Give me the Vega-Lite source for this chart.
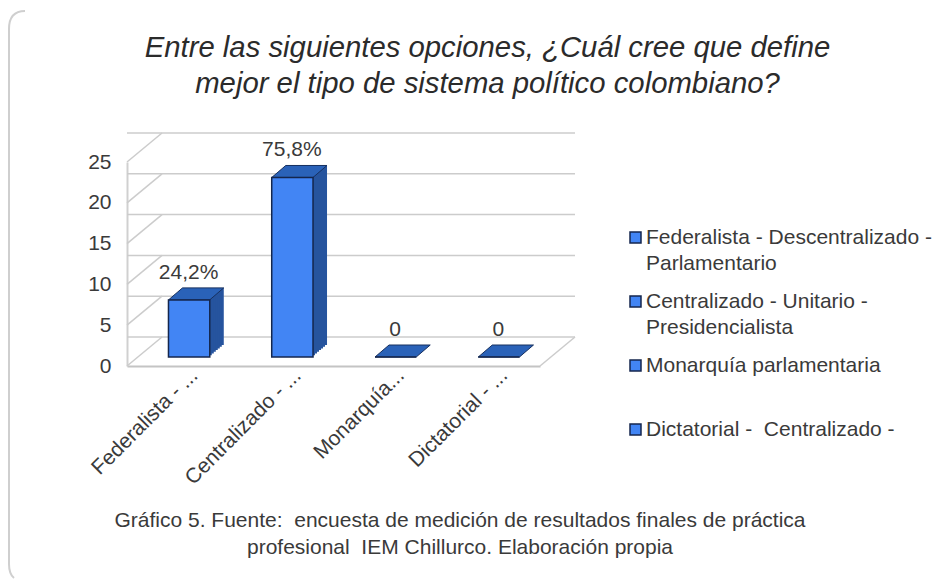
{
"$schema":"https://vega.github.io/schema/vega-lite/v6.json",
"width":413,"height":204,
"autosize":{"type":"none"},
"padding":{"left":127,"top":162,"right":399,"bottom":213},
"background":"white",
"title":{"text":["Entre las siguientes opciones, ¿Cuál cree que define","mejor el tipo de sistema político colombiano?"],"font":"Liberation Sans","fontStyle":"italic","fontWeight":"normal","fontSize":29.3,"color":"#2b2b2b","lineHeight":36,"anchor":"middle","dx":154,"offset":-121,"baseline":"bottom"},
"config":{"view":{"stroke":null},"axisY":{"values":[0,5,10,15,20,25],"labelFont":"Liberation Sans","labelFontSize":21,"labelColor":"#3a3a3a","labelPadding":16,"ticks":false,"domainColor":"#d0d0d0","domainWidth":2,"grid":false}},
"datasets":{
"bars":[
{"categoria":"Federalista - ...","serie":"Federalista - Descentralizado - Parlamentario","valor":7,"etiqueta":"24,2%"},
{"categoria":"Centralizado - ...","serie":"Centralizado - Unitario - Presidencialista","valor":22,"etiqueta":"75,8%"},
{"categoria":"Monarquía...","serie":"Monarquía parlamentaria","valor":0,"etiqueta":"0"},
{"categoria":"Dictatorial - ...","serie":"Dictatorial - \u00a0Centralizado -","valor":0,"etiqueta":"0"}],
"grid":[{"tick":0},{"tick":5},{"tick":10},{"tick":15},{"tick":20},{"tick":25}],
"frame":[{"parte":"marco"}]
},
"layer":[
{"data":{"name":"frame"},"mark":{"type":"point","shape":"M-102,-151Q-118,-151 -118,-133L-118,402Q-118,412 -113,416","size":4,"filled":false,"stroke":"#cfcfcf","strokeWidth":2,"opacity":1},"encoding":{"x":{"value":0},"y":{"value":0}}},
{"data":{"name":"grid"},"mark":{"type":"rule","color":"#cccccc","strokeWidth":1.5,"xOffset":35,"x2Offset":35,"yOffset":-29},"encoding":{"y":{"field":"tick","type":"quantitative","scale":{"domain":[0,25],"nice":false},"axis":{"title":null}}}},
{"data":{"name":"grid"},"mark":{"type":"rule","color":"#cccccc","strokeWidth":1.5,"y2Offset":-29},"encoding":{"x":{"value":0},"x2":{"value":35},"y":{"field":"tick","type":"quantitative","axis":{"title":null}},"y2":{"field":"tick"}}},
{"data":{"name":"grid"},"transform":[{"filter":"datum.tick == 0"}],"mark":{"type":"rule","color":"#cccccc","strokeWidth":1.5,"y2Offset":-29},"encoding":{"x":{"value":413},"x2":{"value":448},"y":{"field":"tick","type":"quantitative","axis":{"title":null}},"y2":{"field":"tick"}}},
{"data":{"name":"bars"},
"encoding":{
"x":{"field":"categoria","type":"nominal","sort":null,"scale":{"paddingInner":0.6,"paddingOuter":0.3},
"axis":{"title":["Gráfico 5. Fuente: \u00a0encuesta de medición de resultados finales de práctica","profesional \u00a0IEM Chillurco. Elaboración propia"],"titleFont":"Liberation Sans","titleFontWeight":"normal","titleFontSize":21,"titleColor":"#3a3a3a","titleLineHeight":27,"titleX":332.5,"titleY":143,"titleAlign":"center","titleBaseline":"top","labelAngle":-45,"labelAlign":"right","labelBaseline":"middle","labelFont":"Liberation Sans","labelFontSize":21,"labelColor":"#3a3a3a","labelOffset":16,"labelPadding":6,"labelLimit":300,"ticks":false,"domainColor":"#c4c4c4","domainWidth":2,"grid":false}},
"y":{"field":"valor","type":"quantitative","scale":{"domain":[0,25],"nice":false},"axis":{"title":null}}},
"layer":[
{"mark":{"type":"bar","color":"#26549e","xOffset":24.5,"x2Offset":24.5,"yOffset":-21,"y2Offset":-21}},
{"mark":{"type":"bar","color":"#26549e","xOffset":22.5,"x2Offset":22.5,"yOffset":-19.3,"y2Offset":-19.3}},
{"mark":{"type":"bar","color":"#26549e","xOffset":20.5,"x2Offset":20.5,"yOffset":-17.6,"y2Offset":-17.6}},
{"mark":{"type":"bar","color":"#26549e","xOffset":18.5,"x2Offset":18.5,"yOffset":-15.9,"y2Offset":-15.9}},
{"mark":{"type":"bar","color":"#26549e","xOffset":16.5,"x2Offset":16.5,"yOffset":-14.2,"y2Offset":-14.2}},
{"mark":{"type":"bar","color":"#26549e","xOffset":14.5,"x2Offset":14.5,"yOffset":-12.5,"y2Offset":-12.5}},
{"mark":{"type":"bar","color":"#26549e","xOffset":12.5,"x2Offset":12.5,"yOffset":-10.8,"y2Offset":-10.8}},
{"mark":{"type":"point","shape":"M-20.6,0L20.6,0L34.6,-12L-6.6,-12Z","size":4,"filled":true,"fill":"#2a62b8","stroke":"#17305f","strokeWidth":1,"opacity":1,"xOffset":10.5,"yOffset":-9}},
{"mark":{"type":"bar","stroke":"#14264d","strokeWidth":1.5,"xOffset":10.5,"x2Offset":10.5,"yOffset":-9,"y2Offset":-9},
"encoding":{"color":{"field":"serie","type":"nominal","sort":null,"scale":{"range":["#4285f4","#4285f4","#4285f4","#4285f4"]},
"legend":{"title":null,"orient":"none","legendX":498,"legendY":65,"symbolType":"square","symbolSize":121,"symbolStrokeColor":"#14264d","symbolStrokeWidth":1.5,"labelFont":"Liberation Sans","labelFontSize":21,"labelColor":"#3a3a3a","labelLimit":320,"labelOffset":0,"labelBaseline":"top","gridAlign":"all","rowPadding":16,"labelExpr":"split(replace(replace(datum.label,'- Parlamentario','-|Parlamentario'),'- Presidencialista','-|Presidencialista'),'|')","encode":{"labels":{"update":{"lineHeight":{"value":26},"dy":{"value":-11}}}}}}}},
{"mark":{"type":"text","font":"Liberation Sans","fontSize":21,"color":"#3a3a3a","baseline":"middle","xOffset":10,"yOffset":-36},"encoding":{"text":{"field":"etiqueta"}}}
]}
]
}
